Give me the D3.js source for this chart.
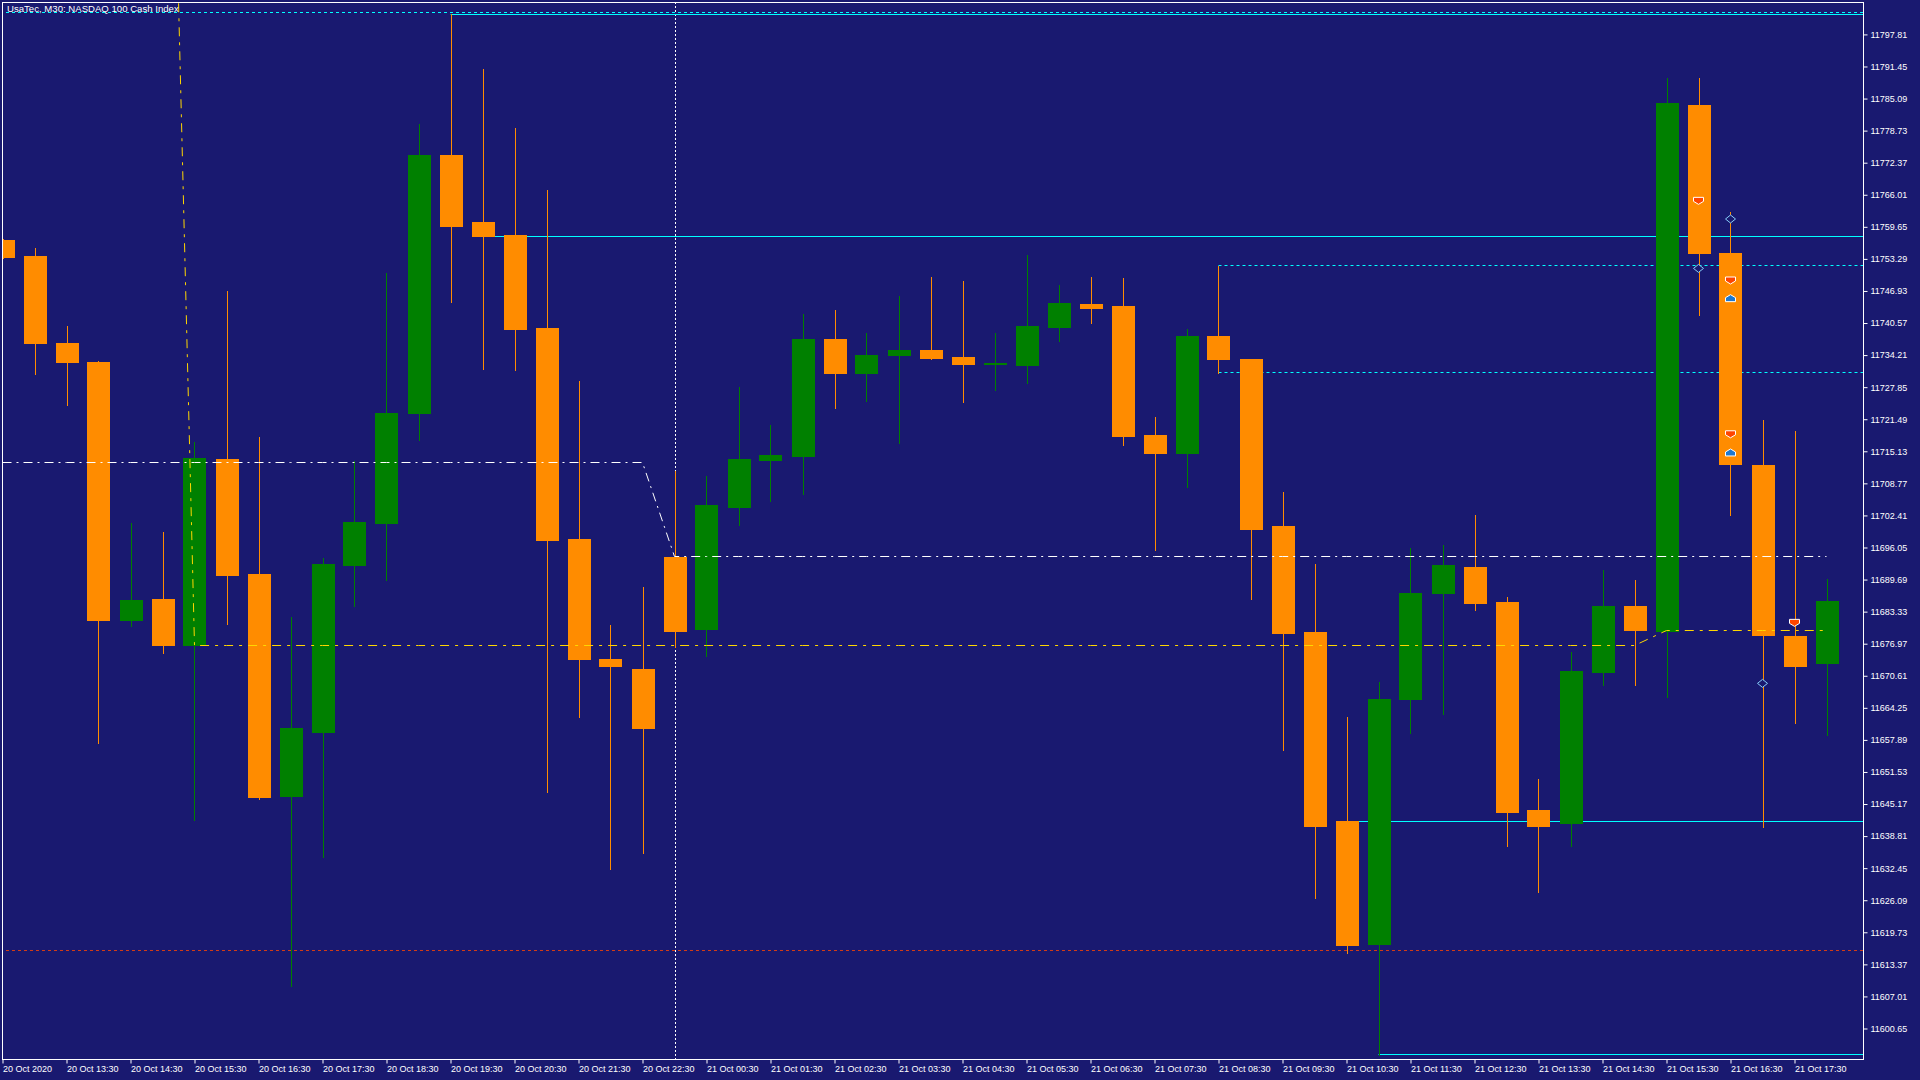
<!DOCTYPE html>
<html>
<head>
<meta charset="utf-8">
<script src="https://cdn.jsdelivr.net/npm/d3@7"></script>
<style>
  html, body { margin: 0; padding: 0; background: #191970; overflow: hidden; }
  svg { display: block; }
</style>
</head>
<body>
<div id="chart"></div>
<script>
// M30 candles, 20 Oct 12:30 .. 21 Oct 18:00
var opens = [
  11757.02, 11753.93, 11736.62, 11732.87, 11681.61, 11685.77, 11676.64, 11713.68, 11690.73, 11646.86,
  11659.47, 11692.61, 11700.93, 11722.80, 11773.93, 11760.51, 11758.09, 11739.58, 11697.71, 11673.96,
  11671.95, 11694.22, 11679.73, 11704.15, 11713.28, 11714.22, 11737.43, 11730.72, 11734.34, 11735.28,
  11733.81, 11732.46, 11732.33, 11739.84, 11744.41, 11744.00, 11718.37, 11714.75, 11737.97, 11733.40,
  11700.26, 11679.33, 11641.76, 11617.34, 11665.91, 11686.98, 11692.21, 11685.23, 11643.91, 11641.36,
  11671.28, 11684.43, 11679.60, 11783.86, 11754.47, 11712.47, 11678.52, 11673.02
];
var highs = [
  11757.30, 11755.54, 11739.98, 11733.13, 11700.93, 11699.19, 11717.03, 11746.96, 11717.97, 11682.28,
  11693.95, 11713.14, 11750.58, 11780.10, 11801.84, 11790.97, 11779.29, 11766.95, 11729.11, 11680.67,
  11688.18, 11711.13, 11710.19, 11727.90, 11720.39, 11742.39, 11743.20, 11738.64, 11746.02, 11749.77,
  11748.97, 11738.64, 11754.07, 11748.16, 11749.77, 11749.50, 11722.00, 11739.31, 11751.79, 11733.50,
  11707.10, 11692.75, 11662.42, 11669.40, 11695.97, 11696.50, 11702.54, 11686.17, 11650.08, 11675.30,
  11691.54, 11689.66, 11789.22, 11789.09, 11762.52, 11721.33, 11719.18, 11689.79
];
var lows = [
  11753.50, 11730.45, 11724.28, 11657.19, 11680.40, 11675.17, 11642.03, 11680.94, 11646.19, 11609.02,
  11634.65, 11684.43, 11689.66, 11717.44, 11744.81, 11731.53, 11731.26, 11647.53, 11662.42, 11632.23,
  11635.45, 11676.38, 11674.50, 11700.53, 11705.23, 11706.70, 11723.74, 11725.08, 11716.77, 11733.40,
  11724.95, 11727.37, 11728.71, 11737.03, 11740.65, 11716.36, 11695.57, 11708.04, 11730.59, 11685.77,
  11655.85, 11626.46, 11615.59, 11595.47, 11659.20, 11663.09, 11683.62, 11636.93, 11627.67, 11636.93,
  11668.73, 11668.73, 11666.31, 11742.13, 11702.54, 11640.68, 11661.22, 11658.93
];
var closes = [
  11753.66, 11736.62, 11732.87, 11681.61, 11685.64, 11676.64, 11713.81, 11690.60, 11646.59, 11660.28,
  11692.75, 11701.07, 11722.80, 11773.93, 11759.84, 11757.69, 11739.44, 11697.58, 11673.96, 11672.49,
  11660.28, 11679.46, 11704.42, 11713.68, 11714.35, 11737.43, 11730.72, 11734.21, 11735.28, 11733.67,
  11732.46, 11732.73, 11739.98, 11744.54, 11743.60, 11718.24, 11714.75, 11737.97, 11733.40, 11699.72,
  11679.06, 11640.95, 11617.20, 11665.91, 11686.98, 11692.61, 11685.10, 11643.64, 11640.68, 11671.55,
  11684.43, 11679.60, 11784.26, 11754.47, 11712.61, 11678.79, 11672.62, 11685.37
];

// time scale labels, one every second bar
var timeLabels = [
  "20 Oct 2020", "20 Oct 13:30", "20 Oct 14:30", "20 Oct 15:30", "20 Oct 16:30", "20 Oct 17:30",
  "20 Oct 18:30", "20 Oct 19:30", "20 Oct 20:30", "20 Oct 21:30", "20 Oct 22:30", "21 Oct 00:30",
  "21 Oct 01:30", "21 Oct 02:30", "21 Oct 03:30", "21 Oct 04:30", "21 Oct 05:30", "21 Oct 06:30",
  "21 Oct 07:30", "21 Oct 08:30", "21 Oct 09:30", "21 Oct 10:30", "21 Oct 11:30", "21 Oct 12:30",
  "21 Oct 13:30", "21 Oct 14:30", "21 Oct 15:30", "21 Oct 16:30", "21 Oct 17:30"
];
var labelBars = [0, 2, 4, 6, 8, 10, 12, 14, 16, 18, 20, 22, 24, 26, 28, 30, 32, 34, 36, 38, 40, 42, 44, 46, 48, 50, 52, 54, 56];

// price scale labels
var priceTicks = [
  11797.81, 11791.45, 11785.09, 11778.73, 11772.37, 11766.01, 11759.65, 11753.29, 11746.93, 11740.57,
  11734.21, 11727.85, 11721.49, 11715.13, 11708.77, 11702.41, 11696.05, 11689.69, 11683.33, 11676.97,
  11670.61, 11664.25, 11657.89, 11651.53, 11645.17, 11638.81, 11632.45, 11626.09, 11619.73, 11613.37,
  11607.01, 11600.65
];

// white dash-dot indicator line
var pivotLine = [
  11713.1, 11713.1, 11713.1, 11713.1, 11713.1, 11713.1, 11713.1, 11713.1, 11713.1, 11713.1,
  11713.1, 11713.1, 11713.1, 11713.1, 11713.1, 11713.1, 11713.1, 11713.1, 11713.1, 11713.1,
  11713.1, 11694.3, 11694.3, 11694.3, 11694.3, 11694.3, 11694.3, 11694.3, 11694.3, 11694.3,
  11694.3, 11694.3, 11694.3, 11694.3, 11694.3, 11694.3, 11694.3, 11694.3, 11694.3, 11694.3,
  11694.3, 11694.3, 11694.3, 11694.3, 11694.3, 11694.3, 11694.3, 11694.3, 11694.3, 11694.3,
  11694.3, 11694.3, 11694.3, 11694.3, 11694.3, 11694.3, 11694.3, 11694.3
];
// gold dash-dot indicator line
var goldLine = [
  null, null, null, null, null, 11932.6, 11676.8, 11676.8, 11676.8, 11676.8,
  11676.8, 11676.8, 11676.8, 11676.8, 11676.8, 11676.8, 11676.8, 11676.8, 11676.8, 11676.8,
  11676.8, 11676.8, 11676.8, 11676.8, 11676.8, 11676.8, 11676.8, 11676.8, 11676.8, 11676.8,
  11676.8, 11676.8, 11676.8, 11676.8, 11676.8, 11676.8, 11676.8, 11676.8, 11676.8, 11676.8,
  11676.8, 11676.8, 11676.8, 11676.8, 11676.8, 11676.8, 11676.8, 11676.8, 11676.8, 11676.8,
  11676.8, 11676.8, 11679.7, 11679.7, 11679.7, 11679.7, 11679.7, 11679.7
];

// horizontal levels (price, first bar)
var cyanSolidLevels = [11801.8, 11757.9, 11641.9, 11595.5];
var cyanSolidFrom = [14, 15, 42, 43];
var cyanDashedLevels = [11802.2, 11752.0, 11730.8];
var cyanDashedFrom = [0, 38, 38];
var redDashedLevels = [11616.2];
var daySeparatorBars = [21];

// trade history arrows
var tradeBars = [53, 53, 54, 54, 54, 54, 54, 55, 56];
var tradePrices = [11764.9, 11751.4, 11761.2, 11749.1, 11745.4, 11718.6, 11714.8, 11669.1, 11681.2];
var tradeKinds = ["sell", "close", "close", "sell", "buy", "sell", "buy", "close", "sell"];

var title = "UsaTec, M30:  NASDAQ 100 Cash Index";

var width = 1920, height = 1080;
var plot = {left: 2, top: 2, right: 1863, bottom: 1059};

var bars = opens.map(function(o, i) {
  return {i: i, o: o, h: highs[i], l: lows[i], c: closes[i]};
});

var svg = d3.select("#chart")
  .append("svg")
  .attr("width", width)
  .attr("height", height)
  .style("font-family", "'Liberation Sans', Arial, sans-serif");

svg.append("rect")
  .attr("width", width)
  .attr("height", height)
  .attr("fill", "#191970");

var x = d3.scaleLinear()
  .domain([0, 57])
  .range([2.5, 2.5 + 32 * 57]);

var y = d3.scaleLinear()
  .domain([11594.6, 11804.24])
  .range([plot.bottom, plot.top]);

svg.append("clipPath")
  .attr("id", "plotClip")
  .append("rect")
  .attr("x", plot.left + 1)
  .attr("y", plot.top + 1)
  .attr("width", plot.right - plot.left - 1)
  .attr("height", plot.bottom - plot.top - 1);

var g = svg.append("g").attr("clip-path", "url(#plotClip)");

// day separator
g.selectAll(".sep")
  .data(daySeparatorBars)
  .enter()
  .append("line")
  .attr("class", "sep")
  .attr("x1", function(d) { return Math.round(x(d)) + 0.5; })
  .attr("x2", function(d) { return Math.round(x(d)) + 0.5; })
  .attr("y1", plot.top)
  .attr("y2", plot.bottom)
  .attr("stroke", "#ffffff")
  .attr("stroke-width", 1)
  .attr("stroke-dasharray", "2,2");

// level lines
function hline(val) { return Math.round(y(val)) + 0.5; }

g.selectAll(".redLevel")
  .data(redDashedLevels)
  .enter()
  .append("line")
  .attr("x1", plot.left + 4)
  .attr("x2", plot.right)
  .attr("y1", hline)
  .attr("y2", hline)
  .attr("stroke", "#ff4500")
  .attr("stroke-opacity", 0.8)
  .attr("stroke-dasharray", "3,3");

g.selectAll(".cyanDashed")
  .data(cyanDashedLevels)
  .enter()
  .append("line")
  .attr("x1", function(d, i) { return cyanDashedFrom[i] === 0 ? plot.left + 4 : x(cyanDashedFrom[i]); })
  .attr("x2", plot.right)
  .attr("y1", hline)
  .attr("y2", hline)
  .attr("stroke", "#00ffff")
  .attr("stroke-dasharray", "3,3");

g.selectAll(".cyanSolid")
  .data(cyanSolidLevels)
  .enter()
  .append("line")
  .attr("x1", function(d, i) { return x(cyanSolidFrom[i]); })
  .attr("x2", plot.right)
  .attr("y1", hline)
  .attr("y2", hline)
  .attr("stroke", "#00ffff");

// candles: wicks then bodies
var up = "#008000", down = "#ff8c00";
function colorOf(d) { return d.c >= d.o ? up : down; }

g.selectAll(".wick")
  .data(bars)
  .enter()
  .append("line")
  .attr("class", "wick")
  .attr("x1", function(d) { return Math.round(x(d.i)) + 0.5; })
  .attr("x2", function(d) { return Math.round(x(d.i)) + 0.5; })
  .attr("y1", function(d) { return Math.round(y(d.h)); })
  .attr("y2", function(d) { return Math.round(y(d.l)) + 1; })
  .attr("stroke", colorOf)
  .attr("stroke-width", 1);

g.selectAll(".body")
  .data(bars)
  .enter()
  .append("rect")
  .attr("class", "body")
  .attr("x", function(d) { return Math.round(x(d.i)) - 11; })
  .attr("width", 23)
  .attr("y", function(d) { return Math.round(y(Math.max(d.o, d.c))); })
  .attr("height", function(d) { return Math.max(2, Math.round(Math.abs(y(d.o) - y(d.c))) + 1); })
  .attr("fill", colorOf)
  .attr("shape-rendering", "crispEdges");

// indicator lines
var pivotPath = d3.line()
  .defined(function(d) { return d != null; })
  .x(function(d, i) { return x(i); })
  .y(function(d) { return Math.round(y(d)) + 0.5; });

g.append("path")
  .datum(goldLine)
  .attr("d", pivotPath)
  .attr("fill", "none")
  .attr("stroke", "#ffd700")
  .attr("stroke-width", 1)
  .attr("stroke-dasharray", "9,6,3,6");

g.append("path")
  .datum(pivotLine)
  .attr("d", pivotPath)
  .attr("fill", "none")
  .attr("stroke", "#ffffff")
  .attr("stroke-width", 1)
  .attr("stroke-dasharray", "9,5,2,5");

// trade arrows
var trades = tradeBars.map(function(b, i) {
  return {i: b, p: tradePrices[i], k: tradeKinds[i]};
});

g.selectAll(".trade")
  .data(trades)
  .enter()
  .append("path")
  .attr("class", "trade")
  .attr("transform", function(d) { return "translate(" + x(d.i) + "," + y(d.p) + ")"; })
  .attr("d", function(d) {
    if (d.k === "sell") return "M0,4L5,1L5,-3L-5,-3L-5,1Z";
    if (d.k === "buy") return "M0,-4L5,-1L5,3L-5,3L-5,-1Z";
    return "M0,-4L5,0L0,4L-5,0Z";
  })
  .attr("fill", function(d) {
    if (d.k === "sell") return "#ff4500";
    if (d.k === "buy") return "#1e78d0";
    return "#191970";
  })
  .attr("stroke", function(d) { return d.k === "close" ? "#87cefa" : "#ffffff"; })
  .attr("stroke-width", 1);

// frame
svg.append("rect")
  .attr("x", plot.left + 0.5)
  .attr("y", plot.top + 0.5)
  .attr("width", plot.right - plot.left)
  .attr("height", plot.bottom - plot.top)
  .attr("fill", "none")
  .attr("stroke", "#ffffff")
  .attr("stroke-width", 1);

// price axis
var yAxis = svg.append("g")
  .attr("transform", "translate(" + (plot.right + 0.5) + ",0)")
  .call(d3.axisRight(y)
    .tickValues(priceTicks)
    .tickSize(4)
    .tickPadding(3)
    .tickFormat(d3.format(".2f")));
yAxis.select(".domain").remove();
yAxis.selectAll(".tick line").attr("stroke", "#ffffff");
yAxis.selectAll(".tick text")
  .attr("fill", "#ffffff")
  .style("font-size", "9px")
  .style("font-family", "'Liberation Sans', Arial, sans-serif");

// time axis
var xAxis = svg.append("g")
  .attr("transform", "translate(0," + (plot.bottom + 0.5) + ")")
  .call(d3.axisBottom(x)
    .tickValues(labelBars)
    .tickSize(4)
    .tickFormat(function(d) { return timeLabels[labelBars.indexOf(d)]; }));
xAxis.select(".domain").remove();
xAxis.selectAll(".tick line").attr("stroke", "#ffffff");
xAxis.selectAll(".tick text")
  .attr("fill", "#ffffff")
  .attr("text-anchor", "start")
  .attr("x", 0)
  .attr("y", 12.5)
  .attr("dy", null)
  .style("font-size", "9px")
  .style("font-family", "'Liberation Sans', Arial, sans-serif");

// symbol caption
svg.append("text")
  .attr("x", 7)
  .attr("y", 12)
  .attr("fill", "#ffffff")
  .style("font-size", "9.6px")
  .text(title);
</script>
</body>
</html>
